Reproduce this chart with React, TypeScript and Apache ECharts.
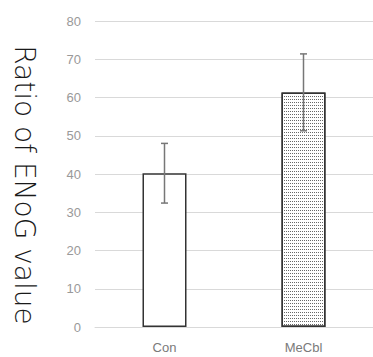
import React, { useEffect, useRef } from "react";
import * as echarts from "echarts";

const categories = ["Con", "MeCbl"];
const means = [40.2, 61.3];
const errLow = [32.4, 51.3];
const errHigh = [48.0, 71.4];
const yTicks = { min: 0, max: 80, interval: 10 };

export default function App() {
  const ref = useRef<HTMLDivElement>(null);
  useEffect(() => {
    if (!ref.current) return;
    document.body.style.margin = "0";
    document.body.style.overflow = "hidden";
    const chart = echarts.init(ref.current, null, { renderer: "svg" });
    chart.setOption({
      animation: false,
      grid: { left: 95, top: 21, width: 286, bottom: 30 },
      xAxis: {
        type: "category",
        data: categories,
        axisLine: { show: true, lineStyle: { color: "#d9d9d9", width: 1 } },
        axisTick: { show: false },
        axisLabel: { color: "#7a7a7a", fontSize: 13, fontFamily: "Liberation Sans, Arial", margin: 14 },
      },
      yAxis: {
        type: "value",
        min: yTicks.min,
        max: yTicks.max,
        interval: yTicks.interval,
        axisLine: { show: false },
        axisTick: { show: false },
        axisLabel: { color: "#999", fontSize: 13, fontFamily: "Liberation Sans, Arial", margin: 14 },
        splitLine: { lineStyle: { color: "#d9d9d9", width: 1 } },
      },
      graphic: [
        {
          type: "text",
          x: 24,
          y: 185,
          rotation: -Math.PI / 2,
          style: {
            text: "Ratio of ENoG value",
            font: "300 28px 'DejaVu Sans', sans-serif",
            fill: "#1a1a1a",
            align: "center",
            verticalAlign: "middle",
          },
        },
      ],
      series: [
        {
          type: "bar",
          barWidth: 44,
          data: means.map((v, i) =>
            i === 0
              ? { value: v, itemStyle: { color: "#fff" } }
              : {
                  value: v,
                  itemStyle: {
                    color: "#fff",
                    decal: {
                      symbol: "rect",
                      symbolSize: 1,
                      color: "rgba(40,40,40,0.7)",
                      dashArrayX: [1, 1],
                      dashArrayY: [1, 1.5],
                      rotation: 0,
                    },
                  },
                }
          ),
          itemStyle: { borderColor: "#333", borderWidth: 1.5 },
        },
        {
          type: "custom",
          data: categories.map((c, i) => [i, errLow[i], errHigh[i]]),
          renderItem: (params: any, api: any) => {
            const x = api.value(0);
            const lo = api.coord([x, api.value(1)]);
            const hi = api.coord([x, api.value(2)]);
            const cap = 3.5;
            const style = { stroke: "#777", lineWidth: 1.5 };
            return {
              type: "group",
              children: [
                { type: "line", shape: { x1: hi[0], y1: hi[1], x2: lo[0], y2: lo[1] }, style },
                { type: "line", shape: { x1: hi[0] - cap, y1: hi[1], x2: hi[0] + cap, y2: hi[1] }, style },
                { type: "line", shape: { x1: lo[0] - cap, y1: lo[1], x2: lo[0] + cap, y2: lo[1] }, style },
              ],
            };
          },
          z: 10,
        },
      ],
    });
    return () => chart.dispose();
  }, []);
  return <div ref={ref} style={{ width: 373, height: 357 }} />;
}
